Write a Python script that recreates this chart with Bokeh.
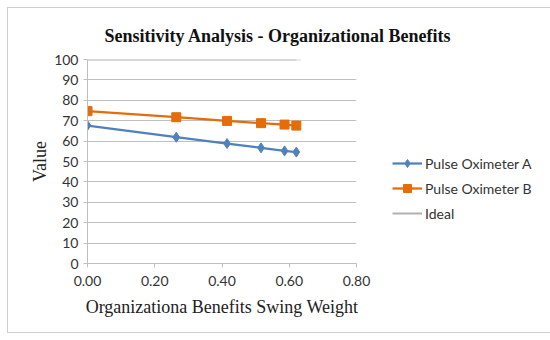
from bokeh.plotting import figure
from bokeh.models import Range1d, Legend, LegendItem, FixedTicker, NumeralTickFormatter
from bokeh.embed import file_html
from bokeh.resources import INLINE

swing_weight = [0.00, 0.264, 0.415, 0.516, 0.586, 0.621]
oximeter_a = [67.6, 61.9, 58.8, 56.7, 55.2, 54.6]
oximeter_b = [74.7, 71.7, 69.9, 68.8, 68.1, 67.6]
ideal = [100, 100, 100, 100, 100, 100]
series_names = ["Pulse Oximeter A", "Pulse Oximeter B", "Ideal"]
title_text = "Sensitivity Analysis - Organizational Benefits"
x_label = "Organizationa Benefits Swing Weight"
y_label = "Value"

p = figure(frame_width=269, frame_height=204, output_backend="svg", toolbar_location=None,
           x_range=Range1d(0, 0.8), y_range=Range1d(0, 100),
           min_border_left=79, min_border_right=170, min_border_top=51, min_border_bottom=69)
p.styles = {"border": "1px solid #d0d0d0", "margin": "7px"}
p.outline_line_color = None
p.background_fill_color = "white"

p.title.text = title_text
p.title.align = "left"
p.title.offset = 17
p.title.text_font = "Liberation Serif"
p.title.text_font_style = "bold"
p.title.text_font_size = "18px"
p.title.text_color = "#111111"
p.title.standoff = 27

p.xgrid.grid_line_color = None
p.ygrid.grid_line_color = "#bfbfbf"
p.ygrid.grid_line_width = 1

p.xaxis.ticker = FixedTicker(ticks=[0, 0.2, 0.4, 0.6, 0.8])
p.xaxis.formatter = NumeralTickFormatter(format="0.00")
p.yaxis.ticker = FixedTicker(ticks=list(range(0, 101, 10)))
for ax in (p.xaxis[0], p.yaxis[0]):
    ax.axis_line_color = "#bfbfbf"
    ax.major_tick_line_color = "#bfbfbf"
    ax.minor_tick_line_color = None
    ax.major_tick_in = 0
    ax.major_tick_out = 4
    ax.major_label_text_font = "Lato"
    ax.major_label_text_font_size = "14px"
    ax.major_label_text_color = "#333333"
    ax.axis_label_text_font = "Liberation Serif"
    ax.axis_label_text_font_style = "normal"
    ax.axis_label_text_color = "#222222"
p.xaxis.major_label_standoff = 8
p.yaxis.major_label_standoff = 5
p.xaxis.axis_label = x_label
p.xaxis.axis_label_text_font_size = "18px"
p.xaxis.axis_label_standoff = 8
p.yaxis.axis_label = y_label
p.yaxis.axis_label_text_font_size = "18px"
p.yaxis.axis_label_standoff = 1

blue = "#4f81bd"
orange = "#e46c0a"
grey = "#b0b0b0"

ri = p.line(swing_weight, ideal, line_color=grey, line_width=2)
p.scatter(swing_weight, ideal, marker="dash", size=9, line_color="#d8d8d8", line_width=2)

ra = p.line(swing_weight, oximeter_a, line_color=blue, line_width=2.25)
ma = p.scatter(swing_weight, oximeter_a, marker="diamond", size=10, fill_color=blue, line_color=blue)
rb = p.line(swing_weight, oximeter_b, line_color=orange, line_width=2.25)
mb = p.scatter(swing_weight, oximeter_b, marker="square", size=9, fill_color=orange, line_color=orange)

legend = Legend(items=[
    LegendItem(label=series_names[0], renderers=[ra, ma]),
    LegendItem(label=series_names[1], renderers=[rb, mb]),
    LegendItem(label=series_names[2], renderers=[ri]),
], location=(36, 40), orientation="vertical")
legend.border_line_color = None
legend.background_fill_alpha = 0
legend.padding = 0
legend.margin = 0
legend.spacing = 5
legend.glyph_width = 30
legend.glyph_height = 20
legend.label_height = 20
legend.label_standoff = 3
legend.label_text_font = "Lato"
legend.label_text_font_size = "14px"
legend.label_text_color = "#333333"
p.add_layout(legend, "right")

open("out.html", "w").write(file_html(p, INLINE))
